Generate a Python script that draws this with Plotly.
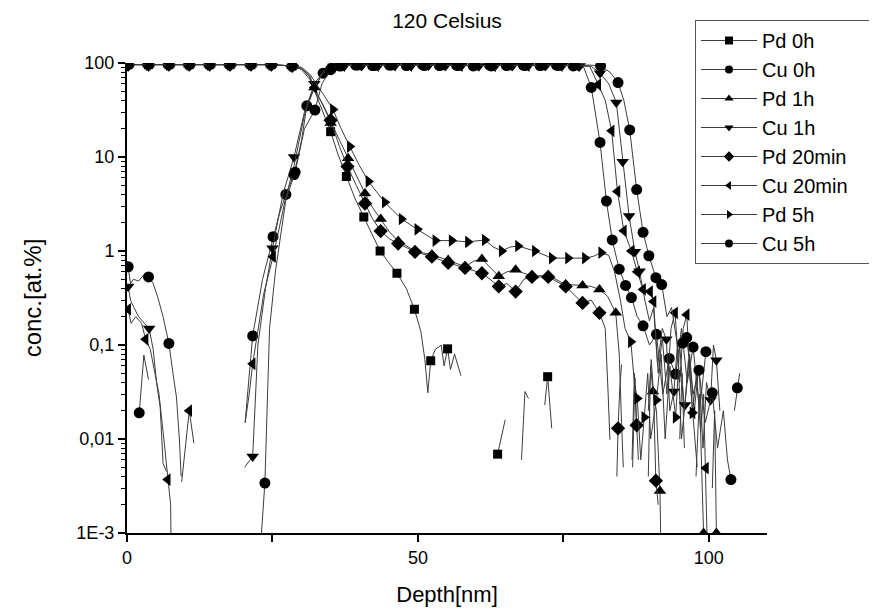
import plotly.graph_objects as go

# ---------------- data (depth in nm, concentration in at.%) ----------------
pd_plateau_x = [0.2, 3.7, 7.2, 10.7, 14.2, 17.7, 21.3, 24.8, 28.4]

pd0_x = pd_plateau_x + [30.0, 31.5, 33.0, 35.0, 36.3, 37.7, 39.2, 40.7, 42.1, 43.5, 45.0, 46.4, 48.0, 49.4,
                        50.5, 51.2, 51.7, 52.2, 53.0, 54.0, 54.5, 55.1, 55.6, 56.3, 57.4, None,
                        63.7, 65.0, None, 67.8, 68.4, 69.0, None, 71.8, 72.3, 73.0]
pd0_y = [96, 96, 96, 96, 96, 96, 96, 96, 93] + [85, 66, 38, 18.6, 10.5, 6.2, 3.6, 2.3, 1.5, 1.0, 0.75, 0.58, 0.4, 0.24,
                                               0.14, 0.07, 0.031, 0.068, 0.09, 0.1, 0.06, 0.091, 0.055, 0.08, 0.047, None,
                                               0.0069, 0.016, None, 0.006, 0.032, 0.027, None, 0.023, 0.046, 0.013]
pd0_mk = pd_plateau_x + [35.0, 37.7, 40.7, 43.5, 46.4, 49.4, 52.2, 55.1, 63.7, 72.3]

pd1_x = pd_plateau_x + [30.0, 31.3, 32.2, 33.5, 35.0, 36.5, 38.0, 39.5, 40.9, 42.2, 43.6, 45.1, 46.6, 49.5,
                        52.4, 55.2, 58.1, 59.6, 61.0, 63.9, 65.3, 66.8, 68.2, 69.6, 72.4, 75.4, 78.3, 79.8,
                        81.2, 82.6, 84.0, 84.6, 85.0, 85.3, None, 86.8, 87.2, 87.6, None,
                        89.6, 90.0, 90.4, 91.0, 91.6, 91.8, None, 95.0, 95.4, 95.8, None,
                        97.8, 98.4, 99.1, 99.3, None, 100.6, 101.0, 101.3]
pd1_y = [96, 96, 96, 96, 96, 96, 96, 96, 93] + [88, 72, 55, 36, 23, 15, 9.7, 6.2, 4.1, 2.9, 2.19, 1.6, 1.28, 1.0,
                                               0.91, 0.8, 0.68, 0.78, 0.82, 0.54, 0.6, 0.63, 0.58, 0.54, 0.55, 0.44, 0.43, 0.42,
                                               0.39, 0.33, 0.22, 0.08, 0.015, 0.005, None, 0.006, 0.05, 0.012, None,
                                               0.004, 0.06, 0.032, 0.02, 0.0028, 0.0005, None, 0.01, 0.05, 0.008, None,
                                               0.004, 0.03, 0.001, 0.0005, None, 0.003, 0.02, 0.001]
pd1_mk = pd_plateau_x + [32.2, 35.0, 38.0, 40.9, 43.6, 46.6, 49.5, 52.4, 55.2, 58.1, 61.0, 63.9, 66.8, 69.6,
                         72.4, 75.4, 78.3, 81.2, 84.0, 90.4, 91.6, 99.1, 101.3]

pd20_x = pd_plateau_x + [30.0, 31.5, 32.2, 33.5, 35.0, 36.5, 37.9, 39.4, 40.9, 42.2, 43.6, 45.1, 46.6, 49.5,
                         52.4, 55.2, 58.1, 61.0, 62.4, 63.9, 65.3, 66.8, 68.2, 69.6, 72.4, 75.4, 78.3, 79.8,
                         81.2, 82.2, 82.7, 83.0, None, 84.2, 84.4, 84.7, 85.0, None,
                         86.9, 87.3, 87.6, 87.9, None, 89.6, 90.1, 90.5, 90.9, 91.3]
pd20_y = [96, 96, 96, 96, 96, 96, 96, 96, 93] + [88, 72, 50, 38, 24.6, 13, 7.9, 5.0, 3.2, 2.2, 1.63, 1.35, 1.2, 0.98,
                                                0.87, 0.75, 0.66, 0.58, 0.5, 0.42, 0.45, 0.37, 0.5, 0.53, 0.53, 0.42, 0.28, 0.3,
                                                0.22, 0.15, 0.03, 0.0098, None, 0.004, 0.013, 0.035, 0.062, None,
                                                0.005, 0.045, 0.014, 0.006, None, 0.02, 0.07, 0.03, 0.0036, 0.002]
pd20_mk = pd_plateau_x + [35.0, 37.9, 40.9, 43.6, 46.6, 49.5, 52.4, 55.2, 58.1, 61.0, 63.9, 66.8, 69.6,
                          72.4, 75.4, 78.3, 81.2, 84.4, 87.6, 90.9]

pd5_x = pd_plateau_x + [30.0, 31.5, 33.0, 34.2, 35.4, 36.8, 38.3, 39.9, 41.5, 42.9, 44.3, 45.7, 47.2, 49.9,
                        53.0, 55.8, 58.6, 61.5, 63.0, 64.4, 65.8, 67.2, 70.1, 73.0, 75.8, 78.7, 80.2, 81.5,
                        82.8, 83.8, 84.8, 85.6, 86.6, 87.2, 87.7, 88.3, 88.9, 89.5, 90.0, 91.0, 91.8, 92.5,
                        93.3, 94.3, 95.0, 95.8, 96.5, 97.2, 98.0]
pd5_y = [96, 96, 96, 96, 96, 96, 96, 96, 93] + [90, 75, 55, 42, 32, 20, 12.9, 8.2, 5.5, 4.2, 3.3, 2.7, 2.19, 1.7,
                                               1.29, 1.29, 1.25, 1.31, 1.1, 1.0, 1.1, 1.13, 1.0, 0.84, 0.84, 0.84, 0.88, 0.96,
                                               0.9, 0.6, 0.3, 0.15, 0.108, 0.04, 0.027, 0.006, 0.017, 0.05, 0.01, 0.026, 0.08, 0.01,
                                               0.06, 0.017, 0.1, 0.02, 0.07, 0.019, 0.005]
pd5_mk = pd_plateau_x + [35.4, 38.3, 41.5, 44.3, 47.2, 49.9, 53.0, 55.8, 58.6, 61.5, 64.4, 67.2, 70.1, 73.0,
                         75.8, 78.7, 81.5, 86.6, 87.7, 88.9, 91.0, 94.3, 97.2]

cu0_x = [0.2, 0.6, 1.1, 2.0, 2.8, 3.7, 4.5, 5.3, 6.2, 7.2, 7.9, 8.5, 9.0, 9.3, None,
         20.3, 21.6, 23.3, 25.1, 26.2, 27.3, 28.7, 30.0, 30.9, 32.2, 33.7, 35.2, 36.5, 39.3, 42.2, 45.1,
         48.0, 50.8, 53.7, 56.6, 59.5, 62.3, 65.2, 68.1, 71.0, 73.8, 76.7, 78.5, 79.8, 81.3, 82.4, 83.4,
         84.6, 85.7, 86.7, 87.7, 88.7, 89.8, 91.0, 92.1, 93.2, 94.3, 95.3, 96.3, 97.3, 98.4, 99.5]
cu0_y = [0.68, 0.45, 0.5, 0.48, 0.55, 0.53, 0.45, 0.32, 0.2, 0.104, 0.05, 0.028, 0.01, 0.004, None,
         0.015, 0.125, 0.5, 1.42, 2.5, 4.0, 6.5, 15, 35, 55, 78, 88, 93, 95, 94, 95,
         94, 96, 94, 95, 93, 95, 94, 95, 94, 95, 93, 90, 55, 14.3, 3.4, 1.31,
         0.64, 0.43, 0.32, 0.2, 0.16, 0.1, 0.13, 0.03, 0.072, 0.049, 0.15, 0.04, 0.095, 0.02, 0.085]
cu0_mk = [0.2, 3.7, 7.2, 21.6, 25.1, 27.3, 28.7, 30.9, 33.7, 35.2, 36.5, 39.3, 42.2, 45.1, 48.0, 50.8,
          53.7, 56.6, 59.5, 62.3, 65.2, 68.1, 71.0, 73.8, 76.7, 79.8, 81.3, 82.4, 83.4, 84.6, 85.7, 86.7,
          88.7, 91.0, 93.2, 94.3, 97.3, 99.5]

cu1_x = [0.2, 0.6, 1.2, 2.0, 3.0, 3.8, 4.5, 5.1, 5.7, 6.2, 6.8, None,
         20.2, 21.6, 22.5, 23.8, 25.0, 26.8, 28.7, 30.5, 32.2, 34.0, 35.5, 37.5, 40.4, 43.3, 46.1, 49.0,
         51.9, 54.8, 57.6, 60.5, 63.4, 66.3, 69.1, 72.0, 74.9, 77.8, 79.8, 81.3, 82.8, 84.1, 85.2, 86.3,
         87.3, 88.1, 89.0, 89.8, 90.5, 91.2, 92.0, 92.7, 93.3, 94.0, 94.6, 95.3, 95.9, 96.7, 97.5, 98.3,
         99.0, 99.6, 100.3, 100.8, 101.3, 101.9]
cu1_y = [0.42, 0.3, 0.25, 0.2, 0.17, 0.15, 0.09, 0.039, 0.022, 0.0055, 0.0045, None,
         0.005, 0.0065, 0.1, 0.4, 1.07, 4, 10, 30, 60, 85, 92, 95, 94, 95, 94, 96,
         95, 94, 95, 93, 95, 94, 95, 94, 95, 93, 92, 78, 60, 38, 8.9, 2.35,
         0.98, 0.61, 0.3, 0.18, 0.25, 0.06, 0.15, 0.115, 0.02, 0.032, 0.1, 0.01, 0.023, 0.08, 0.02, 0.06,
         0.008, 0.04, 0.026, 0.1, 0.069, 0.02]
cu1_mk = [0.2, 3.8, 21.6, 25.0, 28.7, 32.2, 35.5, 37.5, 40.4, 43.3, 46.1, 49.0, 51.9, 54.8, 57.6, 60.5,
          63.4, 66.3, 69.1, 72.0, 74.9, 77.8, 81.3, 84.1, 85.2, 86.3, 87.3, 88.1, 92.7, 94.0, 95.9,
          100.3, 101.3]

cu20_x = [0.2, 0.7, 1.5, 2.5, 3.2, 4.0, 4.8, 5.5, 6.2, 6.7, 7.0, 7.5, 7.6, None, 9.4, 10.7, 11.5, None,
          20.3, 21.0, 21.6, 23.5, 25.1, 27.2, 28.7, 30.5, 32.2, 33.5, 35.0, 37.0, 39.9, 42.8, 45.7, 48.5,
          51.4, 54.3, 57.2, 60.0, 62.9, 65.8, 68.7, 71.5, 74.4, 77.3, 79.5, 81.0, 82.2, 83.3, 84.3, 85.4,
          86.7, 87.7, 88.7, 89.9, 90.5, 91.3, 92.0, 92.8, 93.5, 94.2, 95.0, 95.6, 96.2, 96.7, 97.2, 97.9,
          98.6, 99.1, 99.5, 99.8]
cu20_y = [0.24, 0.17, 0.2, 0.17, 0.115, 0.09, 0.05, 0.03, 0.012, 0.006, 0.0037, 0.002, 0.0005, None,
          0.0035, 0.02, 0.009, None,
          0.0148, 0.03, 0.063, 0.35, 0.87, 3.5, 8, 28, 55, 75, 90, 94, 95, 94, 95, 94,
          96, 95, 94, 95, 93, 95, 94, 95, 94, 94, 93, 59, 40, 19, 4.3, 1.64,
          1.0, 0.6, 0.39, 0.37, 0.29, 0.05, 0.12, 0.03, 0.15, 0.22, 0.04, 0.15, 0.21, 0.06, 0.019, 0.05,
          0.012, 0.03, 0.0049, 0.0005]
cu20_mk = [0.2, 3.2, 7.0, 10.7, 21.6, 25.1, 32.2, 35.0, 37.0, 39.9, 42.8, 45.7, 48.5, 51.4, 54.3, 57.2,
           60.0, 62.9, 65.8, 68.7, 71.5, 74.4, 77.3, 81.0, 83.3, 84.3, 85.4, 86.7, 87.7, 88.7, 89.9, 90.5,
           94.2, 96.2, 97.2, 99.5]

cu5_x = [2.1, 2.9, 3.7, None, 23.0, 23.7, 24.5, 25.5, 27.3, 28.9, 30.5, 32.3, 33.5, 35.0, 36.8, 39.6,
         42.5, 45.4, 48.3, 51.1, 54.0, 56.9, 59.8, 62.6, 65.5, 68.4, 71.3, 74.1, 77.0, 79.5, 81.4, 83.0,
         84.4, 85.4, 86.4, 87.6, 88.7, 89.7, 90.9, 91.9, 92.8, 93.6, 94.6, 95.5, 96.2, 97.3, 98.3, 99.4,
         100.6, 101.5, 102.5, 103.2, 103.8, None, 104.4, 104.9, 105.3]
cu5_y = [0.019, 0.078, 0.043, None, 0.0008, 0.0034, 0.15, 0.6, 3.5, 6.9, 20, 31.6, 60, 85, 93, 95,
         94, 95, 96, 94, 95, 94, 95, 93, 95, 94, 95, 94, 95, 95, 93, 80,
         62, 40, 19.4, 4.5, 1.58, 0.89, 0.52, 0.44, 0.2, 0.25, 0.1, 0.105, 0.12, 0.03, 0.054, 0.015,
         0.031, 0.008, 0.02, 0.006, 0.0037, None, 0.02, 0.035, 0.05]
cu5_mk = [2.1, 23.7, 28.9, 32.3, 35.0, 36.8, 39.6, 42.5, 45.4, 48.3, 51.1, 54.0, 56.9, 59.8, 62.6, 65.5,
          68.4, 71.3, 74.1, 77.0, 81.4, 84.4, 86.4, 87.6, 88.7, 89.7, 90.9, 91.9, 95.5, 96.2, 98.3,
          100.6, 103.8, 104.9]

series_names = ["Pd 0h", "Cu 0h", "Pd 1h", "Cu 1h", "Pd 20min", "Cu 20min", "Pd 5h", "Cu 5h"]
series_x = [pd0_x, cu0_x, pd1_x, cu1_x, pd20_x, cu20_x, pd5_x, cu5_x]
series_y = [pd0_y, cu0_y, pd1_y, cu1_y, pd20_y, cu20_y, pd5_y, cu5_y]
series_mk = [pd0_mk, cu0_mk, pd1_mk, cu1_mk, pd20_mk, cu20_mk, pd5_mk, cu5_mk]
symbols = ["square", "circle", "triangle-up", "triangle-down", "diamond", "triangle-left", "triangle-right", "circle"]
msizes = [9, 11, 11, 11, 11, 11, 11, 11]

x_tickvals = [0, 25, 50, 75, 100]
x_ticktext = ["0", "", "50", "", "100"]
y_tickvals = [0.001, 0.01, 0.1, 1, 10, 100]
y_ticktext = ["1E-3", "0,01", "0,1", "1", "10", "100"]
y_minor = [m * d for d in [0.001, 0.01, 0.1, 1, 10] for m in range(2, 10)]

FONT = "Liberation Sans, Arial, sans-serif"
LINE_C = "#3c3c3c"
PAD = "\u00a0" * 5   # widens the legend box toward the right edge, as in the reference

fig = go.Figure()
for name, xs, ys, mk, sym, ms in zip(series_names, series_x, series_y, series_mk, symbols, msizes):
    fig.add_trace(go.Scatter(x=xs, y=ys, mode="lines", line=dict(color=LINE_C, width=1),
                             showlegend=False, hoverinfo="skip", legendgroup=name))
    mset = set(mk)
    mx = [a for a, b in zip(xs, ys) if a is not None and b is not None and a in mset]
    my = [b for a, b in zip(xs, ys) if a is not None and b is not None and a in mset]
    fig.add_trace(go.Scatter(x=mx, y=my, mode="markers",
                             marker=dict(symbol=sym, size=ms, color="black", line=dict(width=0)),
                             showlegend=False, legendgroup=name))
    fig.add_trace(go.Scatter(x=[None], y=[None], mode="lines+markers", name=name + PAD, legendgroup=name,
                             line=dict(color=LINE_C, width=1),
                             marker=dict(symbol=sym, size=8, color="black")))

# page body adds an 8px offset; margins compensate so the plot area lands at 127..767 x 63..533
fig.update_layout(
    width=877, height=614,
    margin=dict(l=119, r=118, t=55, b=89, autoexpand=False),
    paper_bgcolor="white", plot_bgcolor="white",
    font=dict(family=FONT, color="black", size=18),
    title=dict(text="120 Celsius", x=0.5, xref="paper", xanchor="center",
               y=1.0, yref="container", yanchor="top", pad=dict(t=5),
               font=dict(family=FONT, size=21, color="black")),
    legend=dict(x=(695 - 127) / 640, y=(533 - 20) / 470, xanchor="left", yanchor="top",
                bordercolor="#555555", borderwidth=1, bgcolor="white",
                font=dict(family=FONT, size=20, color="black"),
                tracegroupgap=0, itemwidth=56),
    xaxis=dict(range=[0, 110], showline=True, linecolor="black", linewidth=2,
               ticks="outside", ticklen=7, tickwidth=1.5, tickcolor="black",
               tickvals=x_tickvals, ticktext=x_ticktext, showgrid=False, zeroline=False,
               tickfont=dict(size=18),
               title=dict(text="Depth[nm]", font=dict(size=22), standoff=20)),
    yaxis=dict(type="log", range=[-3, 2], showline=True, linecolor="black", linewidth=2,
               ticks="outside", ticklen=7, tickwidth=1.5, tickcolor="black",
               tickvals=y_tickvals, ticktext=y_ticktext, showgrid=False, zeroline=False,
               tickfont=dict(size=18),
               minor=dict(tickvals=y_minor, ticks="outside", ticklen=4, tickwidth=1, tickcolor="black", showgrid=False),
               title=dict(text="conc.[at.%]", font=dict(size=24), standoff=28)),
)

fig.write_html("out.html")
